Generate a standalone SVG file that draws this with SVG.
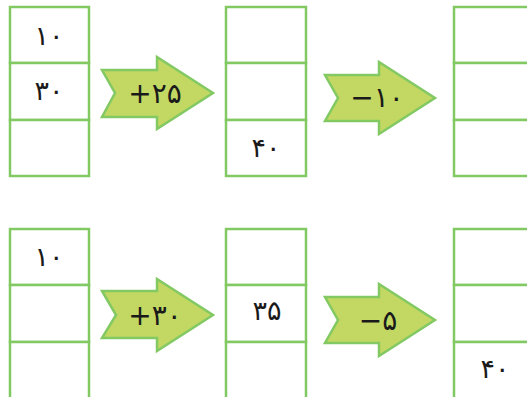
<svg xmlns="http://www.w3.org/2000/svg" width="527" height="397" viewBox="0 0 527 397">
<style>
.cell{fill:#ffffff;stroke:#82c963;stroke-width:2.5}
.arr{fill:#c2d862;stroke:#82c963;stroke-width:2.5;stroke-linejoin:miter}
.t{font-family:"DejaVu Sans",sans-serif;font-size:27px;fill:#1a1a1a;text-anchor:middle;dominant-baseline:central;letter-spacing:3px}
.a{font-family:"DejaVu Sans",sans-serif;font-size:28px;fill:#1a1a1a;text-anchor:middle;dominant-baseline:central;letter-spacing:1px}
</style>
<rect width="527" height="397" fill="#ffffff"/>
<g id="col-top-1">
<rect class="cell" x="10" y="7" width="79" height="56"/>
<rect class="cell" x="10" y="63" width="79" height="57"/>
<rect class="cell" x="10" y="120" width="79" height="56"/>
<text class="t" x="49" y="35">۱۰</text>
<text class="t" x="49" y="90">۳۰</text>
</g>
<g id="col-top-2">
<rect class="cell" x="226" y="7" width="80" height="56"/>
<rect class="cell" x="226" y="63" width="80" height="57"/>
<rect class="cell" x="226" y="120" width="80" height="56"/>
<text class="t" x="266" y="147">۴۰</text>
</g>
<g id="col-top-3">
<rect class="cell" x="454" y="7" width="80" height="56"/>
<rect class="cell" x="454" y="63" width="80" height="57"/>
<rect class="cell" x="454" y="120" width="80" height="56"/>
</g>
<g id="col-bot-1">
<rect class="cell" x="10" y="229" width="79" height="56"/>
<rect class="cell" x="10" y="285" width="79" height="57"/>
<rect class="cell" x="10" y="342" width="79" height="57"/>
<text class="t" x="49" y="256">۱۰</text>
</g>
<g id="col-bot-2">
<rect class="cell" x="226" y="229" width="80" height="56"/>
<rect class="cell" x="226" y="285" width="80" height="57"/>
<rect class="cell" x="226" y="342" width="80" height="57"/>
<text class="t" x="267" y="310">۳۵</text>
</g>
<g id="col-bot-3">
<rect class="cell" x="454" y="229" width="80" height="56"/>
<rect class="cell" x="454" y="285" width="80" height="57"/>
<rect class="cell" x="454" y="342" width="80" height="57"/>
<text class="t" x="495" y="368">۴۰</text>
</g>
<g id="connectors">
<g id="arrow-1">
<path class="arr" d="M102,70 L157,70 L157,57 L213,93 L157,129 L157,117 L102,117 L115,93 Z"/>
<text class="a" x="155" y="93">+۲۵</text>
</g>
<g id="arrow-2">
<path class="arr" d="M325,75 L379,75 L379,62 L435,98 L379,134 L379,121 L325,121 L338,98 Z"/>
<text class="a" x="377" y="97">−۱۰</text>
</g>
<g id="arrow-3">
<path class="arr" d="M102,291 L157,291 L157,279 L213,315 L157,351 L157,338 L102,338 L116,315 Z"/>
<text class="a" x="155" y="315">+۳۰</text>
</g>
<g id="arrow-4">
<path class="arr" d="M325,297 L379,297 L379,284 L435,320 L379,356 L379,343 L325,343 L338,320 Z"/>
<text class="a" x="378" y="320">−۵</text>
</g>
</g>
</svg>
